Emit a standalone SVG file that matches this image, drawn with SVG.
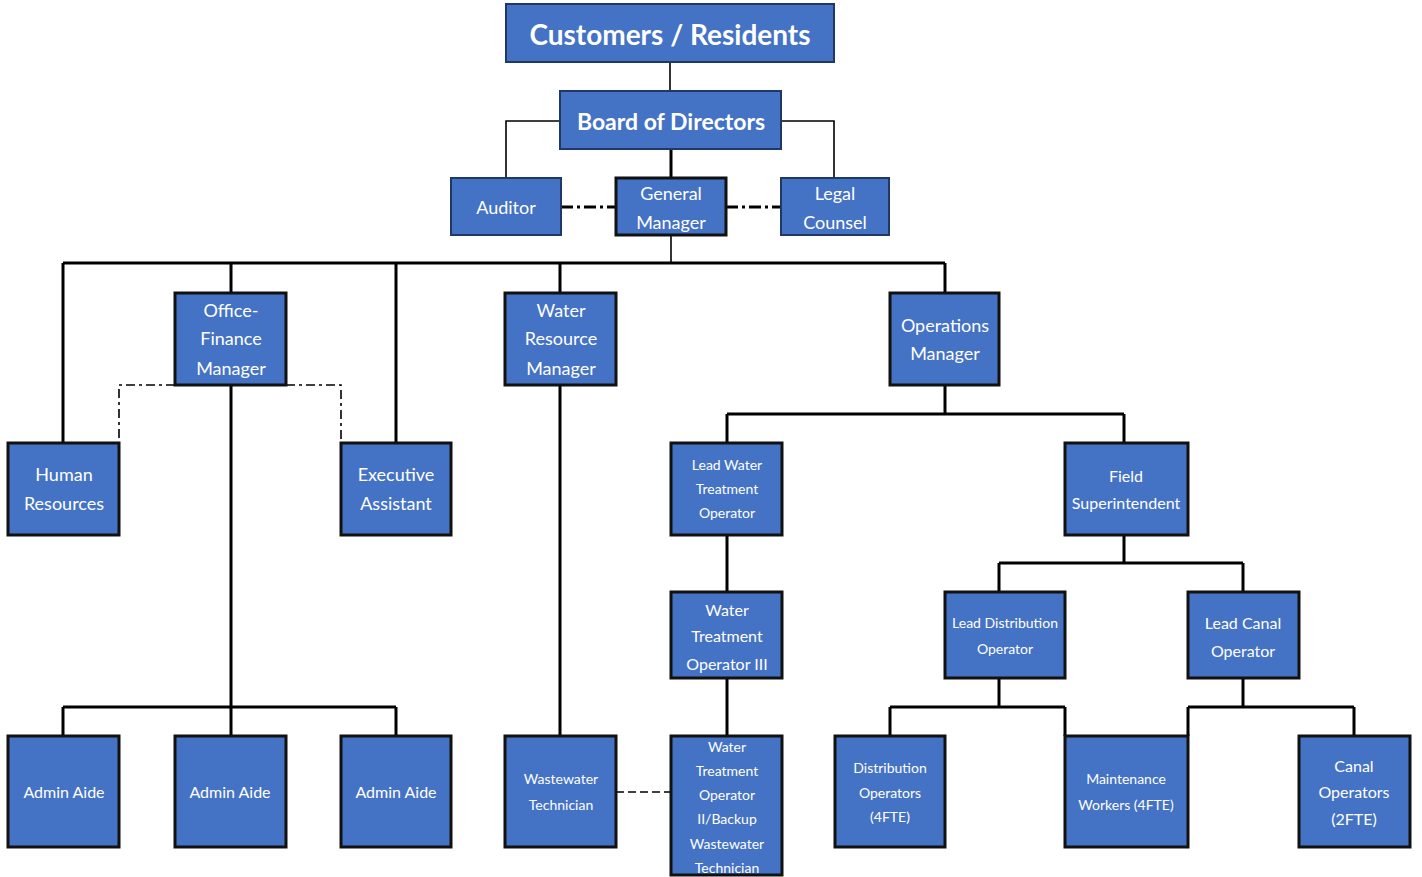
<svg xmlns="http://www.w3.org/2000/svg" width="1422" height="877" viewBox="0 0 1422 877">
<style>
.b{fill:#4472C4;stroke:#111;stroke-width:3}
.bt{fill:#4472C4;stroke:#1F3864;stroke-width:2}
text{font-family:Lato,"Liberation Sans",sans-serif;fill:#fff;text-anchor:middle;dominant-baseline:central}
.l{fill:none;stroke:#000;stroke-width:3}
.lt{fill:none;stroke:#000;stroke-width:1.6}
.dd{fill:none;stroke:#000;stroke-width:3;stroke-dasharray:12 4 3 4}
.dt{fill:none;stroke:#000;stroke-width:1.6;stroke-dasharray:9 4 3 4}
.dsh{fill:none;stroke:#000;stroke-width:1.6;stroke-dasharray:8 4}
</style>
<rect width="1422" height="877" fill="#fff"/>
<g id="connectors">
<path class="lt" d="M670 62V91"/>
<path class="lt" d="M560 121H506V178M781 121H834V178"/>
<path class="l" d="M671 149V178"/>
<path class="dd" d="M561 207H616M726 207H781"/>
<path class="lt" d="M671 235V263"/>
<path class="l" d="M63 263H945M63 263V443M231 263V293M396 263V443M560 263V293M945 263V293"/>
<path class="dt" d="M175 385H119V443M286 385H341V443"/>
<path class="l" d="M231 385V736M63 707H396M63 707V736M396 707V736"/>
<path class="l" d="M560 385V736"/>
<path class="dsh" d="M616 792H671"/>
<path class="l" d="M945 385V414M727 414H1124M727 414V443M1124 414V443"/>
<path class="l" d="M727 535V592M727 678V736"/>
<path class="l" d="M1124 535V563M999 563H1243M999 563V592M1243 563V592"/>
<path class="l" d="M999 678V707M890 707H1065M890 707V736M1065 707V736"/>
<path class="l" d="M1243 678V707M1188 707H1354M1188 707V736M1354 707V736"/>
</g>
<g id="customers"><rect class="bt" x="506" y="4" width="328" height="58"/><text x="670" y="34" font-size="28" font-weight="bold">Customers / Residents</text></g>
<g id="board"><rect class="bt" x="560" y="91" width="221" height="58"/><text x="671" y="121" font-size="23" font-weight="bold">Board of Directors</text></g>
<g id="auditor"><rect class="bt" x="451" y="178" width="110" height="57"/><text x="506" y="207" font-size="18">Auditor</text></g>
<g id="gm"><rect class="b" x="616" y="178" width="110" height="57" stroke-width="2.5"/><text x="671" y="193" font-size="18">General</text><text x="671" y="222" font-size="18">Manager</text></g>
<g id="legal"><rect class="bt" x="781" y="178" width="108" height="57"/><text x="835" y="193" font-size="18">Legal</text><text x="835" y="222" font-size="18">Counsel</text></g>
<g id="office-finance"><rect class="b" x="175" y="293" width="111" height="92"/><text x="231" y="310" font-size="18">Office-</text><text x="231" y="338" font-size="18">Finance</text><text x="231" y="368" font-size="18">Manager</text></g>
<g id="water-resource"><rect class="b" x="505" y="293" width="111" height="92"/><text x="561" y="310" font-size="18">Water</text><text x="561" y="338" font-size="18">Resource</text><text x="561" y="368" font-size="18">Manager</text></g>
<g id="operations"><rect class="b" x="890" y="293" width="109" height="92"/><text x="945" y="325" font-size="18">Operations</text><text x="945" y="353" font-size="18">Manager</text></g>
<g id="hr"><rect class="b" x="8" y="443" width="111" height="92"/><text x="64" y="474" font-size="18">Human</text><text x="64" y="503" font-size="18">Resources</text></g>
<g id="exec"><rect class="b" x="341" y="443" width="110" height="92"/><text x="396" y="474" font-size="18">Executive</text><text x="396" y="503" font-size="18">Assistant</text></g>
<g id="lead-water"><rect class="b" x="671" y="443" width="111" height="92"/><text x="727" y="464" font-size="14">Lead Water</text><text x="727" y="488" font-size="14">Treatment</text><text x="727" y="512" font-size="14">Operator</text></g>
<g id="field-sup"><rect class="b" x="1065" y="443" width="123" height="92"/><text x="1126" y="475" font-size="16">Field</text><text x="1126" y="502" font-size="16">Superintendent</text></g>
<g id="wto3"><rect class="b" x="671" y="592" width="111" height="86"/><text x="727" y="609" font-size="16">Water</text><text x="727" y="635" font-size="16">Treatment</text><text x="727" y="663" font-size="16">Operator III</text></g>
<g id="lead-dist"><rect class="b" x="945" y="592" width="120" height="86"/><text x="1005" y="622" font-size="14">Lead Distribution</text><text x="1005" y="648" font-size="14">Operator</text></g>
<g id="lead-canal"><rect class="b" x="1188" y="592" width="111" height="86"/><text x="1243" y="622" font-size="16">Lead Canal</text><text x="1243" y="650" font-size="16">Operator</text></g>
<g id="admin1"><rect class="b" x="8" y="736" width="111" height="111"/><text x="64" y="791" font-size="16">Admin Aide</text></g>
<g id="admin2"><rect class="b" x="175" y="736" width="111" height="111"/><text x="230" y="791" font-size="16">Admin Aide</text></g>
<g id="admin3"><rect class="b" x="341" y="736" width="110" height="111"/><text x="396" y="791" font-size="16">Admin Aide</text></g>
<g id="wastewater"><rect class="b" x="505" y="736" width="111" height="111"/><text x="561" y="778" font-size="14">Wastewater</text><text x="561" y="804" font-size="14">Technician</text></g>
<g id="wto2"><rect class="b" x="671" y="736" width="111" height="139"/><text x="727" y="746" font-size="14">Water</text><text x="727" y="770" font-size="14">Treatment</text><text x="727" y="794" font-size="14">Operator</text><text x="727" y="818" font-size="14">II/Backup</text><text x="727" y="843" font-size="14">Wastewater</text><text x="727" y="867" font-size="14">Technician</text></g>
<g id="dist-ops"><rect class="b" x="835" y="736" width="110" height="111"/><text x="890" y="767" font-size="14">Distribution</text><text x="890" y="792" font-size="14">Operators</text><text x="890" y="816" font-size="14">(4FTE)</text></g>
<g id="maint"><rect class="b" x="1065" y="736" width="123" height="111"/><text x="1126" y="778" font-size="14">Maintenance</text><text x="1126" y="804" font-size="14">Workers (4FTE)</text></g>
<g id="canal-ops"><rect class="b" x="1299" y="736" width="111" height="111"/><text x="1354" y="765" font-size="16">Canal</text><text x="1354" y="791" font-size="16">Operators</text><text x="1354" y="818" font-size="16">(2FTE)</text></g>
</svg>
